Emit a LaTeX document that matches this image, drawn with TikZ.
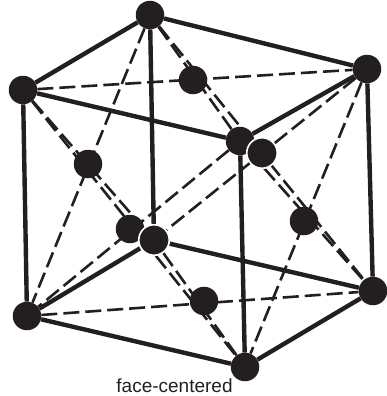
\documentclass[tikz,border=0pt]{standalone}
\usepackage{fontspec}
\setmainfont{Liberation Sans}
\usetikzlibrary{backgrounds}
\definecolor{ink}{HTML}{231F20}
\tikzset{
 atom/.style={circle,fill=ink,inner sep=0pt,minimum size=28.5pt},
 haloatom/.style={atom,draw=white,line width=1.6pt,minimum size=30.5pt},
 edge/.style={draw=ink,line width=4.4pt},
 diag/.style={draw=ink,line width=2.6pt,dash pattern=on 16pt off 6pt},
}
\begin{document}
\begin{tikzpicture}[x=1pt,y=-1pt]
\useasboundingbox (0,0) rectangle (386,396);
\node[atom] (A) at (23,90) {};
\node[atom] (B) at (150,15) {};
\node[atom] (C) at (367,69) {};
\node[atom] (D) at (240,141) {};
\node[atom] (E) at (27,316) {};
\node[atom] (G) at (373,291) {};
\node[atom] (H) at (245,367) {};
\node[atom] (T) at (193,80) {};
\node[atom] (L) at (88,164) {};
\node[atom] (Fr) at (130,229) {};
\node[atom] (R) at (304,221) {};
\node[atom] (Bo) at (204,301) {};
\node[haloatom] (F) at (154,240) {};
\node[haloatom] (Bk) at (262,153) {};
\node[font=\fontsize{19}{21}\selectfont,text=ink] (cap) at (174.5,385.5) {face-centered};
\begin{pgfonlayer}{background}
\foreach \a/\b in {A/C,B/D,E/G,F/H,A/F,B/E,A/H,D/E,B/G,C/F,C/H,D/G}
  \draw[diag] (\a) -- (\b);
\foreach \a/\b in {A/B,B/C,C/D,D/A,E/F,F/G,G/H,H/E,A/E,B/F,C/G,D/H}
  \draw[edge] (\a) -- (\b);
\end{pgfonlayer}
\end{tikzpicture}
\end{document}
